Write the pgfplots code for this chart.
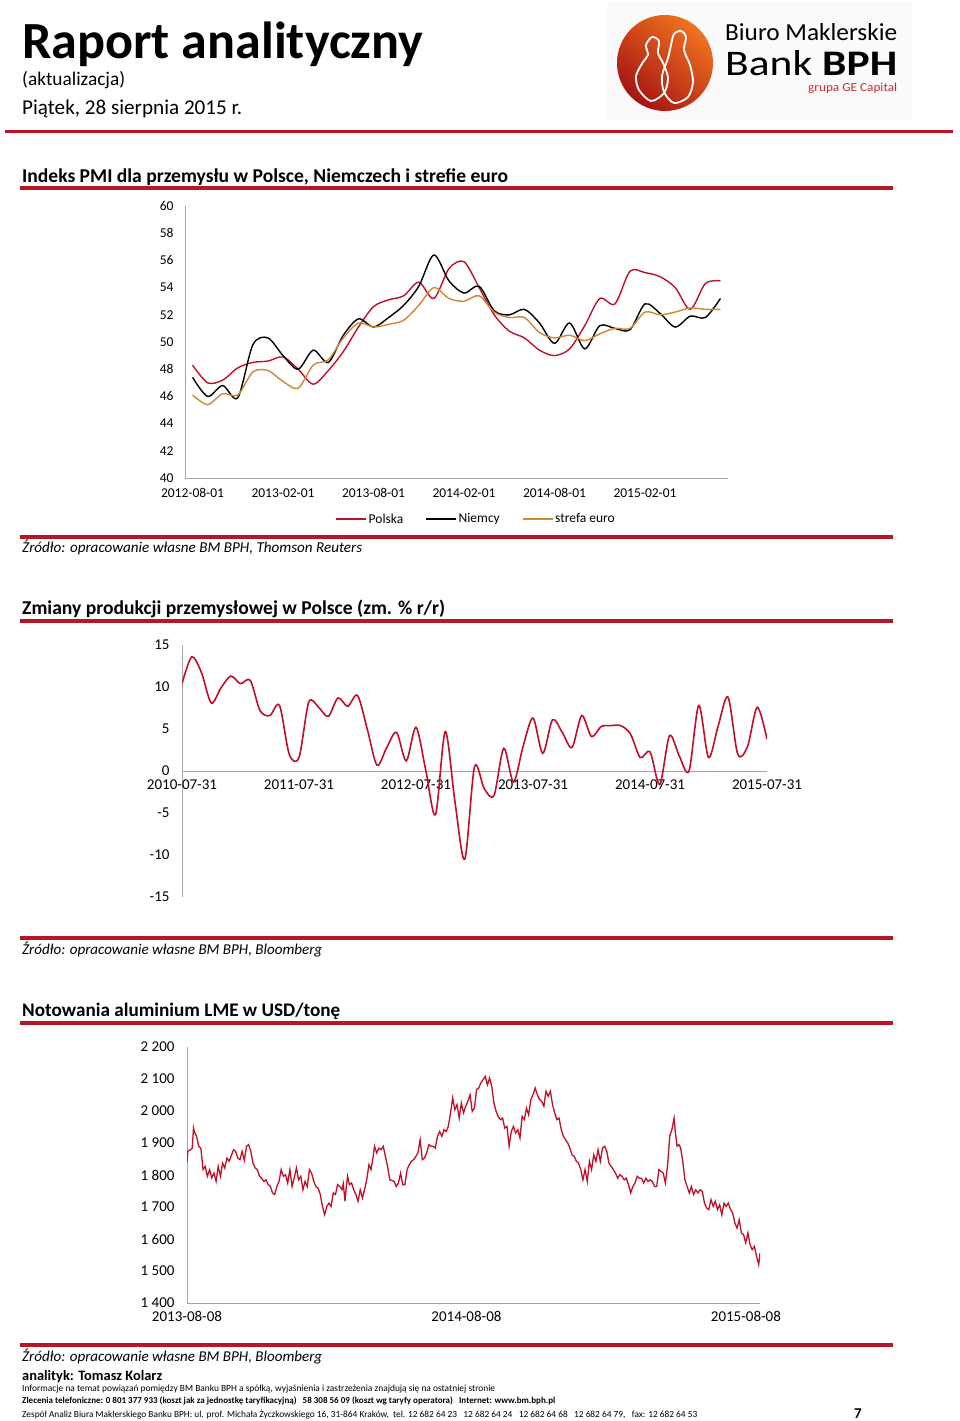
\documentclass[border=0pt]{standalone}
\usepackage{graphicx}
\usepackage{pgfplots}
\pgfplotsset{compat=1.18}
\usepackage{pgfplotstable}
\usepackage{fontspec}
\setmainfont{Carlito}
\definecolor{bphred}{RGB}{192,16,40}
\definecolor{rulered}{RGB}{185,22,35}
\definecolor{euroorange}{RGB}{208,135,52}
\definecolor{axgray}{RGB}{165,165,165}
\newcommand{\fs}[1]{\fontsize{#1}{#1}\selectfont}
\newcommand{\fitw}[2]{\resizebox{#1pt}{!}{#2}}

\pgfplotstableread{
i pl de ez
0 48.3 47.4 46.1
1 47.0 46.0 45.4
2 47.2 46.8 46.2
3 48.1 45.9 46.1
4 48.5 49.8 47.8
5 48.6 50.3 47.9
6 48.9 49.0 47.1
7 48.0 48.0 46.6
8 46.9 49.4 48.3
9 47.9 48.5 48.7
10 49.3 50.5 50.3
11 51.1 51.7 51.4
12 52.6 51.1 51.1
13 53.1 51.8 51.3
14 53.4 52.7 51.6
15 54.4 54.1 52.7
16 53.2 56.4 54.0
17 55.4 54.5 53.2
18 55.9 53.6 53.0
19 54.0 54.1 53.4
20 52.0 52.3 52.2
21 50.8 52.0 51.8
22 50.3 52.4 51.8
23 49.4 51.4 50.7
24 49.0 49.9 50.3
25 49.5 51.4 50.5
26 51.2 49.5 50.1
27 53.2 51.2 50.6
28 52.8 51.0 51.0
29 55.2 50.9 51.0
30 55.1 52.8 52.2
31 54.8 52.1 52.0
32 54.0 51.1 52.2
33 52.4 51.9 52.5
34 54.3 51.8 52.4
35 54.5 53.2 52.4
}\pmi

\pgfplotstableread{
i v
0 10.4
1 13.6
2 11.7
3 8.1
4 9.9
5 11.3
6 10.4
7 10.8
8 7.2
9 6.6
10 7.8
11 2.0
12 1.6
13 8.2
14 7.6
15 6.5
16 8.7
17 7.7
18 9.0
19 5.0
20 0.7
21 2.8
22 4.6
23 1.2
24 5.2
25 0.1
26 -5.2
27 4.7
28 -3.7
29 -10.5
30 0.5
31 -2.1
32 -2.9
33 2.7
34 -1.3
35 3.0
36 6.3
37 2.1
38 6.1
39 4.6
40 2.8
41 6.6
42 4.1
43 5.3
44 5.4
45 5.4
46 4.4
47 1.6
48 2.3
49 -1.6
50 4.2
51 1.8
52 0.0
53 7.8
54 1.6
55 5.4
56 8.8
57 2.0
58 2.9
59 7.6
60 3.8
}\prod

\pgfplotstableread{
d v
0 1840
1.1 1874
4.0 1878
6.8 1884
8.5 1947
9.6 1935
12.5 1921
15.3 1890
18.1 1884
21.0 1817
23.8 1827
26.6 1796
29.5 1817
32.3 1791
35.2 1806
38.0 1780
40.8 1827
43.7 1796
46.5 1837
49.3 1822
52.2 1853
55.0 1843
57.8 1860
60.7 1879
63.5 1874
66.3 1853
69.2 1848
72.0 1874
74.8 1846
77.7 1890
80.5 1895
83.3 1874
86.2 1837
89.0 1822
91.9 1817
94.7 1796
97.5 1790
100.4 1780
103.2 1785
106.0 1770
108.9 1764
111.7 1744
114.5 1739
117.4 1764
120.2 1780
123.0 1817
125.9 1796
128.7 1801
131.5 1775
134.4 1817
137.2 1764
140.0 1790
142.9 1822
145.7 1785
148.6 1796
151.4 1754
154.2 1780
157.1 1764
159.9 1817
162.7 1806
165.6 1780
168.4 1764
171.2 1759
174.1 1739
176.9 1702
179.7 1676
182.6 1702
185.4 1712
188.2 1702
191.1 1744
193.9 1739
196.7 1770
199.6 1764
202.4 1754
204.1 1773
206.4 1718
208.1 1764
209.8 1796
212.1 1770
214.9 1775
217.7 1754
220.6 1739
223.4 1718
226.2 1754
229.1 1728
231.9 1754
234.7 1785
237.6 1832
240.4 1817
243.2 1858
244.9 1890
247.8 1869
250.6 1884
253.4 1879
256.3 1890
259.1 1858
262.0 1827
264.8 1785
267.6 1783
270.5 1780
273.3 1764
276.1 1775
279.0 1806
281.8 1770
284.6 1770
287.5 1817
290.3 1832
293.1 1843
296.0 1848
298.8 1858
301.6 1869
304.5 1910
307.3 1848
310.1 1853
313.0 1869
315.8 1895
318.7 1890
321.5 1890
324.3 1884
327.2 1921
330.0 1936
332.8 1921
335.7 1942
338.5 1936
341.3 1952
344.2 1994
347.0 2041
349.8 2004
352.7 2020
355.5 1978
358.3 2025
361.2 1994
364.0 2015
366.8 2030
369.7 2051
372.5 1999
375.4 2009
378.2 2067
381.0 2072
383.9 2088
386.7 2098
389.5 2108
392.4 2082
395.2 2103
398.0 2077
400.9 2025
403.7 1999
406.5 1983
409.4 1973
412.2 1978
415.0 1947
417.9 1952
420.7 1890
423.5 1936
426.4 1952
429.2 1931
432.1 1942
434.9 1916
437.7 1983
440.6 1973
443.4 2009
446.2 1988
449.1 2036
451.9 2051
454.7 2072
457.6 2051
460.4 2036
463.2 2030
466.1 2015
468.9 2062
471.7 2046
474.6 2062
477.4 2020
480.2 1994
483.1 1973
485.9 1978
488.8 1942
491.6 1921
494.4 1910
497.3 1900
500.1 1884
502.9 1863
505.8 1858
508.6 1843
511.4 1837
514.3 1817
517.1 1785
519.9 1817
522.8 1780
525.6 1843
528.4 1817
531.3 1863
534.1 1843
536.9 1879
539.8 1843
542.6 1884
545.5 1890
548.3 1874
551.1 1837
554.0 1827
556.8 1817
559.6 1806
562.5 1790
565.3 1801
568.1 1796
571.0 1785
573.8 1790
576.6 1770
579.5 1744
582.3 1764
585.1 1775
588.0 1796
590.8 1790
593.6 1790
596.5 1775
599.3 1790
602.2 1780
605.0 1785
607.8 1780
610.7 1764
613.5 1764
616.3 1817
619.2 1811
622.0 1806
624.8 1775
627.7 1832
630.5 1921
633.3 1942
636.2 1978
637.9 1931
640.1 1890
642.4 1895
644.7 1885
647.5 1843
650.3 1785
653.2 1764
656.0 1744
658.8 1764
661.7 1739
664.5 1754
667.4 1744
670.2 1754
673.0 1749
675.9 1712
678.7 1697
681.5 1692
684.4 1723
687.2 1702
690.0 1718
692.9 1692
695.7 1707
698.5 1676
701.4 1712
704.2 1702
707.0 1712
709.9 1692
712.7 1681
715.6 1650
718.4 1634
721.2 1660
724.1 1619
726.9 1614
729.7 1588
732.6 1619
735.4 1582
738.2 1567
741.1 1577
743.9 1546
746.7 1520
748.4 1556
}\alu

\pgfplotsset{
  every axis/.append style={
    scale only axis,
    axis line style={axgray, line width=0.9pt},
    major tick length=0pt,
    tick style={draw=none},
    /pgf/number format/assume math mode=true,
  }
}

\begin{document}
\begin{tikzpicture}[x=1pt,y=1pt]
\useasboundingbox (0,0) rectangle (960,-1421);
\fill[white] (0,0) rectangle (960,-1421);

% ---------- header ----------
\node[anchor=base west, inner sep=0] at (22,-58) {\fitw{401}{\fs{52}\bfseries Raport analityczny}};
\node[anchor=base west, inner sep=0] at (22,-85) {\fitw{103}{\fs{19}(aktualizacja)}};
\node[anchor=base west, inner sep=0] at (22,-114) {\fitw{220}{\fs{21}Piątek, 28 sierpnia 2015 r.}};
\fill[rulered] (5,-129.5) rectangle (953,-132.5);

% logo
\fill[gray!4] (607,-2) rectangle (912,-120);
\shade[bottom color={rgb,255:red,165;green,20;blue,20}, top color={rgb,255:red,240;green,115;blue,30}, shading angle=-40] (665,-63) circle (48);
\draw[white, line width=1.8pt] plot[smooth cycle] coordinates {(651,-101) (639,-90) (636,-76) (643,-62) (648,-55) (646,-45) (652,-37) (659,-41) (658,-53) (663,-63) (668,-78) (664,-93)};
\draw[white, line width=1.8pt] plot[smooth cycle] coordinates {(674,-103) (664,-92) (662,-76) (668,-58) (671,-45) (674,-34) (681,-31) (686,-37) (684,-50) (690,-65) (693,-82) (688,-97)};
\node[anchor=base west, inner sep=0] at (725,-41) {\resizebox{172pt}{17pt}{\fs{26}Biuro Maklerskie}};
\node[anchor=base west, inner sep=0] at (725,-76) {\resizebox{172pt}{25pt}{\fs{40}Bank \textbf{BPH}}};
\node[anchor=base west, inner sep=0, text={rgb,255:red,200;green,45;blue,45}] at (808,-92) {\resizebox{89pt}{8.5pt}{\fs{14}grupa GE Capital}};

% ---------- section 1 ----------
\node[anchor=base west, inner sep=0] at (22,-182) {\fitw{486}{\fs{18}\bfseries Indeks PMI dla przemysłu w Polsce, Niemczech i strefie euro}};
\fill[rulered] (20,-186) rectangle (893,-189.5);

\begin{axis}[at={(185pt,-478pt)}, anchor=south west, width=543pt, height=272pt,
  axis lines*=left, xmin=-0.5, xmax=35.5, ymin=40, ymax=60,
  ytick={40,42,...,60},
  xtick={0,6,12,18,24,30},
  xticklabels={2012-08-01,2013-02-01,2013-08-01,2014-02-01,2014-08-01,2015-02-01},
  tick label style={font=\fs{13.5}},
  yticklabel style={xshift=-8pt},
  xticklabel style={yshift=-7pt},
  legend style={at={(0.536,-0.151)}, anchor=center, draw=none, fill=none,
    font=\fs{13.5}, legend columns=3, inner sep=0pt,
    /tikz/every even column/.append style={column sep=20pt}},
  legend image code/.code={\draw[#1] (0pt,0pt) -- (30pt,0pt);},
]
\addplot[bphred, line width=1.4pt, smooth] table[x=i, y=pl] {\pmi};
\addlegendentry{Polska}
\addplot[black, line width=1.4pt, smooth] table[x=i, y=de] {\pmi};
\addlegendentry{Niemcy}
\addplot[euroorange, line width=1.4pt, smooth] table[x=i, y=ez] {\pmi};
\addlegendentry{strefa euro}
\end{axis}

\fill[rulered] (20,-535) rectangle (893,-538.5);
\node[anchor=base west, inner sep=0] at (22,-552) {\fitw{340}{\fs{15}\itshape Źródło: opracowanie własne BM BPH, Thomson Reuters}};

% ---------- section 2 ----------
\node[anchor=base west, inner sep=0] at (22,-614) {\fitw{423}{\fs{18}\bfseries Zmiany produkcji przemysłowej w Polsce (zm. \% r/r)}};
\fill[rulered] (20,-619) rectangle (893,-622.5);

\begin{axis}[at={(182pt,-897pt)}, anchor=south west, width=585pt, height=252pt,
  axis x line*=middle, axis y line*=left,
  hide obscured x ticks=false, hide obscured y ticks=false,
  xmin=0, xmax=60, ymin=-15, ymax=15,
  ytick={-15,-10,...,15},
  xtick={0,12,24,36,48,60},
  xticklabels={2010-07-31,2011-07-31,2012-07-31,2013-07-31,2014-07-31,2015-07-31},
  tick label style={font=\fs{15}},
  yticklabel style={xshift=-9pt},
  xticklabel style={yshift=-5pt},
]
\addplot[bphred, line width=1.6pt, smooth] table[x=i, y=v] {\prod};
\end{axis}

\fill[rulered] (20,-936) rectangle (893,-939.5);
\node[anchor=base west, inner sep=0] at (22,-954) {\fitw{300}{\fs{15}\itshape Źródło: opracowanie własne BM BPH, Bloomberg}};

% ---------- section 3 ----------
\node[anchor=base west, inner sep=0] at (22,-1016) {\fitw{318}{\fs{18}\bfseries Notowania aluminium LME w USD/tonę}};
\fill[rulered] (20,-1021) rectangle (893,-1024.5);

\begin{axis}[at={(187pt,-1303pt)}, anchor=south west, width=573pt, height=256pt,
  axis lines*=left,
  xmin=0, xmax=748.4, ymin=1400, ymax=2200,
  ytick={1400,1500,...,2200},
  yticklabels={1 400,1 500,1 600,1 700,1 800,1 900,2 000,2 100,2 200},
  xtick={0,365,730},
  xticklabels={2013-08-08,2014-08-08,2015-08-08},
  tick label style={font=\fs{15}},
  yticklabel style={xshift=-9pt},
  xticklabel style={yshift=-5pt},
]
\addplot[bphred, line width=1.3pt] table[x=d, y=v] {\alu};
\end{axis}

\fill[rulered] (20,-1343) rectangle (893,-1346.5);
\node[anchor=base west, inner sep=0] at (22,-1361) {\fitw{300}{\fs{15}\itshape Źródło: opracowanie własne BM BPH, Bloomberg}};

% ---------- footer ----------
\node[anchor=base west, inner sep=0] at (22,-1380) {\fitw{140}{\fs{14}\bfseries analityk: Tomasz Kolarz}};
\node[anchor=base west, inner sep=0] at (22,-1391) {\fitw{473}{\fs{9}Informacje na temat powiązań pomiędzy BM Banku BPH a spółką, wyjaśnienia i zastrzeżenia znajdują się na ostatniej stronie}};
\node[anchor=base west, inner sep=0] at (22,-1403) {\fitw{533}{\fs{9}\bfseries Zlecenia telefoniczne: 0 801 377 933 (koszt jak za jednostkę taryfikacyjną)\ \ \ 58 308 56 09 (koszt wg taryfy operatora)\ \ \ Internet: www.bm.bph.pl}};
\node[anchor=base west, inner sep=0] at (22,-1417) {\fitw{675}{\fs{9}Zespół Analiz Biura Maklerskiego Banku BPH: ul. prof. Michała Życzkowskiego 16, 31-864 Kraków,\ \ tel. 12 682 64 23\ \ \ 12 682 64 24\ \ \ 12 682 64 68\ \ \ 12 682 64 79,\ \ \ fax: 12 682 64 53}};
\node[anchor=base west, inner sep=0] at (854,-1418) {\fs{15}\bfseries 7};
\end{tikzpicture}
\end{document}
